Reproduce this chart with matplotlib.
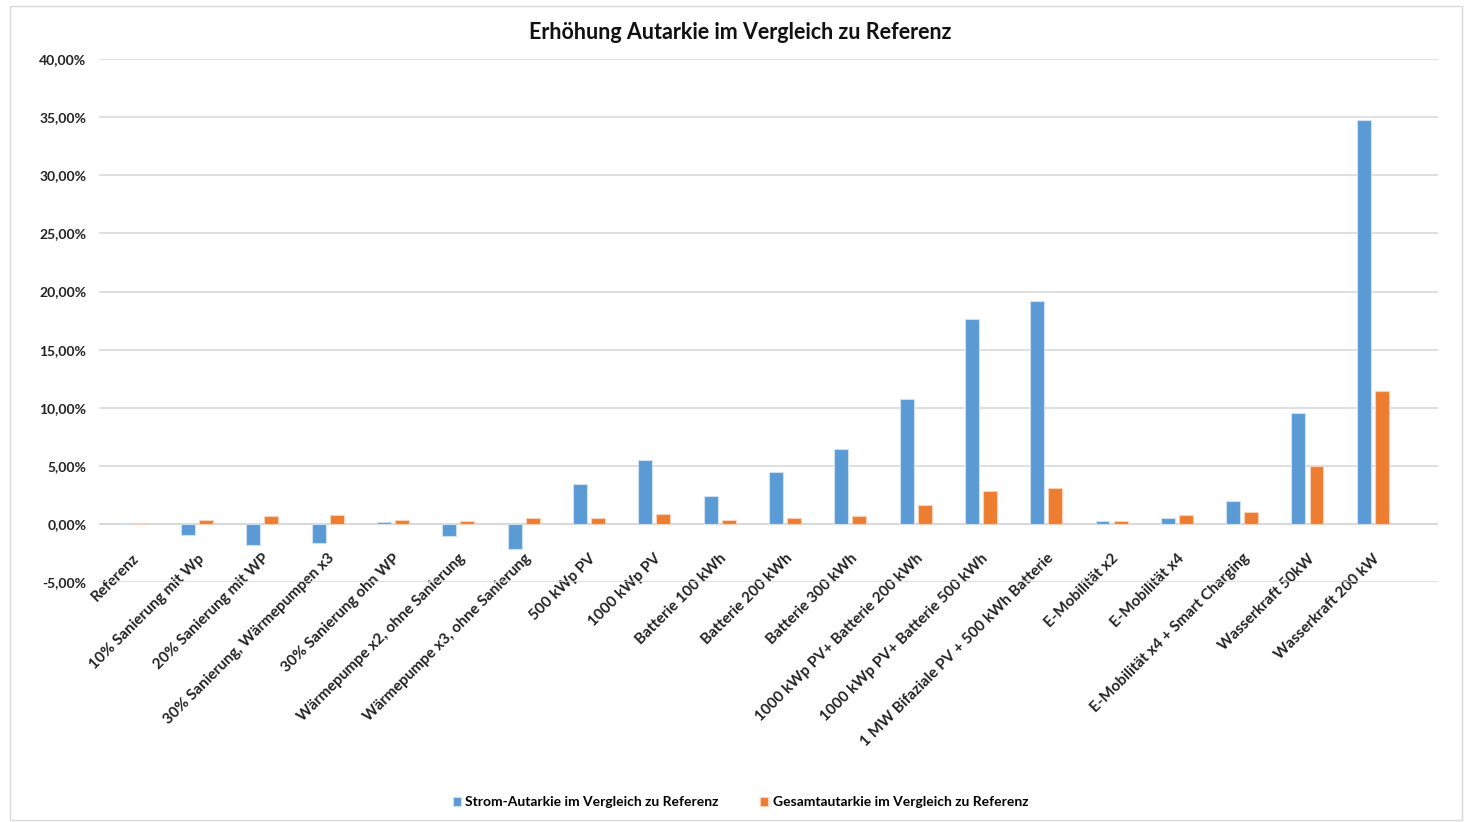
import numpy as np
import matplotlib.pyplot as plt
from matplotlib.ticker import FuncFormatter

# --- Autarkie-Erhöhung gegenüber Referenz ---

categories = [
    "Referenz",
    "10% Sanierung mit Wp",
    "20% Sanierung mit WP",
    "30% Sanierung, Wärmepumpen x3",
    "30% Sanierung ohn WP",
    "Wärmepumpe x2, ohne Sanierung",
    "Wärmepumpe x3, ohne Sanierung",
    "500 kWp PV",
    "1000 kWp PV",
    "Batterie 100 kWh",
    "Batterie 200 kWh",
    "Batterie 300 kWh",
    "1000 kWp PV+ Batterie 200 kWh",
    "1000 kWp PV+ Batterie 500 kWh",
    "1 MW Bifaziale PV + 500 kWh Batterie",
    "E-Mobilität x2",
    "E-Mobilität x4",
    "E-Mobilität x4 + Smart Charging",
    "Wasserkraft 50kW",
    "Wasserkraft 200 kW",
]

# values in percent
strom = [0.0, -0.92, -1.80, -1.66, 0.17, -1.00, -2.15, 3.41, 5.53, 2.38,
         4.44, 6.48, 10.75, 17.63, 19.18, 0.23, 0.52, 1.95, 9.52, 34.75]
gesamt = [0.0, 0.32, 0.72, 0.77, 0.32, 0.26, 0.52, 0.52, 0.86, 0.37,
          0.52, 0.66, 1.66, 2.87, 3.07, 0.23, 0.77, 1.06, 4.99, 11.44]

label_strom = "Strom-Autarkie im Vergleich zu Referenz"
label_gesamt = "Gesamtautarkie im Vergleich zu Referenz"

blue = "#5B9BD5"
orange = "#ED7D31"

plt.rcParams['font.family'] = ['Lato', 'DejaVu Sans']

fig = plt.figure(figsize=(14.66, 8.22), dpi=100)
ax = fig.add_axes([0.0675, 0.292, 0.9135, 0.636])

x = np.arange(len(categories))
w = 0.214
off = 0.138
ax.bar(x - off, strom, w, color=blue, edgecolor="#cfe0f1", linewidth=0.8,
       label=label_strom, zorder=3)
ax.bar(x + off, gesamt, w, color=orange, edgecolor="#f8d2b8", linewidth=0.8,
       label=label_gesamt, zorder=3)

ax.set_xlim(-0.5, 20.0)
ax.set_ylim(-5, 40)
ax.set_yticks(np.arange(-5, 41, 5))
ax.yaxis.set_major_formatter(FuncFormatter(lambda v, p: f"{v:.2f}%".replace(".", ",")))
ax.grid(axis='y', color="#d9d9d9", linewidth=1.2, zorder=0)
ax.axhline(0, color="#d9d9d9", linewidth=1.5, zorder=1)
for s in ax.spines.values():
    s.set_visible(False)
ax.tick_params(axis='both', length=0)
ax.tick_params(axis='y', labelsize=10, pad=9)

ax.set_xticks(x)
ax.set_xticklabels(categories, rotation=45, ha='right', rotation_mode='anchor',
                   fontsize=11, fontweight='bold', color="#222222")
for t in ax.get_yticklabels():
    t.set_fontweight('bold')
    t.set_color("#222222")
# labels sit a bit above the bottom of the plot, like in the spreadsheet
ax.tick_params(axis='x', pad=-22)

fig.text(0.505, 0.96, "Erhöhung Autarkie im Vergleich zu Referenz",
         ha='center', va='center', fontsize=15.5, fontweight='bold', color="#111111")

leg = fig.legend(loc='center', bbox_to_anchor=(0.505, 0.024), ncol=2, frameon=False,
                 handlelength=0.6, handleheight=0.6, handletextpad=0.3,
                 columnspacing=3.0, prop={'weight': 'bold', 'size': 10})

# light chart border like the spreadsheet export
fig.patches.append(plt.Rectangle((0.007, 0.003), 0.99, 0.99, transform=fig.transFigure,
                                 fill=False, edgecolor="#d9d9d9", linewidth=1))

fig.savefig("out.png", dpi=100)
